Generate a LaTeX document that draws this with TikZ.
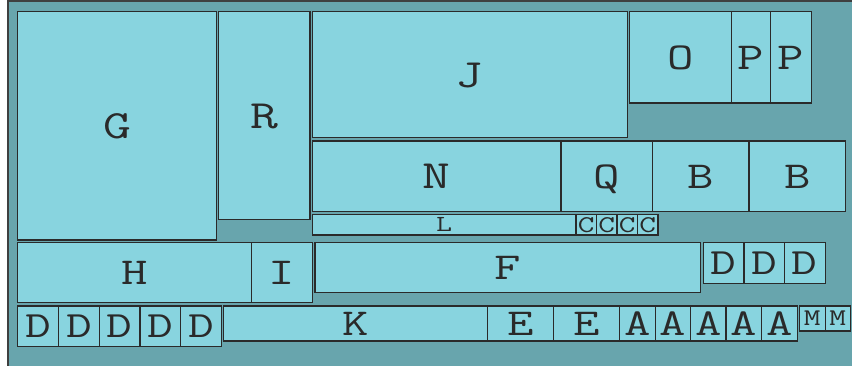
\documentclass[tikz,border=0pt]{standalone}
\usepackage{graphicx}
\definecolor{bgteal}{HTML}{68A5AD}
\definecolor{boxfill}{HTML}{88D4DF}
\definecolor{edge}{HTML}{2A2A2A}
\newcommand\tmbox[7]{% name, x1, y1, x2, y2, font size, text
  \pgfmathsetmacro\tmw{#4-#2}\pgfmathsetmacro\tmh{#5-#3}\pgfmathsetmacro\tmth{0.62*#6}%
  \node[tmcell, minimum width=\tmw pt, minimum height=\tmh pt, text height=\tmth pt,
        font=\fontsize{#6}{#6}\selectfont\ttfamily] (#1) at ({(#2+#4)/2},{(#3+#5)/2})
        {\scalebox{1.35}[1]{#7}};}
\begin{document}
\begin{tikzpicture}[x=1pt,y=-1pt,
  tmcell/.style={draw=edge, fill=boxfill, line width=1.5pt, inner sep=0pt,
     text depth=0pt, text=edge, rectangle}]
\useasboundingbox (0,0) rectangle (852,366);
\clip (0,0) rectangle (852,366);
\draw[draw=edge!90, line width=2pt, fill=bgteal] (8,1.5) rectangle (880,390);
% top rows
\tmbox{G}{17.7}{11.7}{216.3}{240}{40}{G}
\tmbox{R}{218.3}{11.7}{310}{219.7}{40}{R}
\tmbox{J}{312.3}{11.7}{627.3}{137.7}{40}{J}
\tmbox{O}{629.3}{11.7}{731.3}{103}{38}{O}
\tmbox{P1}{731.3}{11.7}{770.7}{103}{38}{P}
\tmbox{P2}{770.7}{11.7}{811.7}{103}{38}{P}
\tmbox{N}{312.3}{141}{561}{211.7}{40}{N}
\tmbox{Q}{561}{141}{652.7}{211.7}{38}{Q}
\tmbox{B1}{652.7}{141}{749}{211.7}{38}{B}
\tmbox{B2}{749}{141}{845.7}{211.7}{38}{B}
\tmbox{L}{312.3}{214.3}{576}{235}{23}{L}
\tmbox{C1}{576}{214.3}{596.5}{235}{24}{C}
\tmbox{C2}{596.5}{214.3}{617}{235}{24}{C}
\tmbox{C3}{617}{214.3}{637.5}{235}{24}{C}
\tmbox{C4}{637.5}{214.3}{658}{235}{24}{C}
% middle row
\tmbox{H}{17.7}{242.7}{251.3}{302.7}{38}{H}
\tmbox{I}{251.3}{242.7}{312.7}{302.7}{38}{I}
\tmbox{F}{315}{242.7}{700.7}{292.7}{38}{F}
\tmbox{DR1}{703.3}{242.3}{744}{283.3}{37}{D}
\tmbox{DR2}{744}{242.3}{784.3}{283.3}{37}{D}
\tmbox{DR3}{784.3}{242.3}{825.3}{283.3}{37}{D}
% bottom row
\tmbox{DL1}{17.7}{306}{58.7}{346.7}{37}{D}
\tmbox{DL2}{58.7}{306}{99.3}{346.7}{37}{D}
\tmbox{DL3}{99.3}{306}{140}{346.7}{37}{D}
\tmbox{DL4}{140}{306}{180.7}{346.7}{37}{D}
\tmbox{DL5}{180.7}{306}{221.3}{346.7}{37}{D}
\tmbox{K}{223.3}{306}{487.3}{341}{38}{K}
\tmbox{E1}{487.3}{306}{553.7}{341}{38}{E}
\tmbox{E2}{553.7}{306}{619.7}{341}{38}{E}
\tmbox{A1}{619.7}{306}{655.3}{341}{38}{A}
\tmbox{A2}{655.3}{306}{690.7}{341}{38}{A}
\tmbox{A3}{690.7}{306}{726}{341}{38}{A}
\tmbox{A4}{726}{306}{761.7}{341}{38}{A}
\tmbox{A5}{761.7}{306}{797.3}{341}{38}{A}
\tmbox{M1}{799.3}{306}{825.3}{331}{24}{M}
\tmbox{M2}{825.3}{306}{850.3}{331}{24}{M}
\end{tikzpicture}
\end{document}
